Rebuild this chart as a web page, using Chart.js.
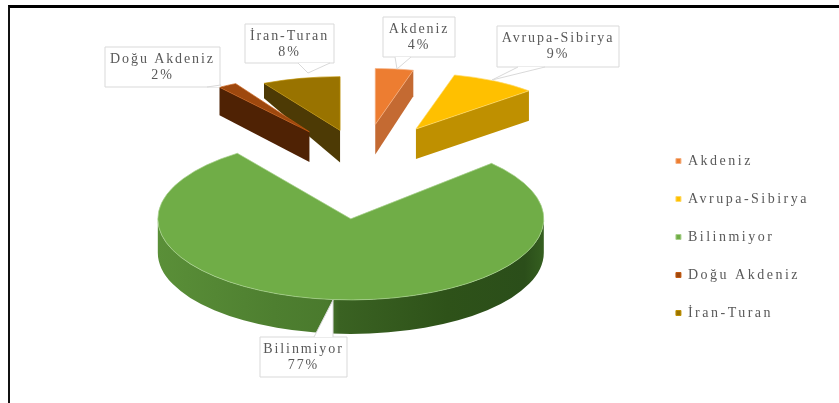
<!DOCTYPE html>
<html lang="tr">
<head>
<meta charset="utf-8">
<title>Fitocoğrafik bölgeler</title>
<style>
  html, body { margin: 0; padding: 0; background: #fff; }
  #kutu { position: absolute; left: 8px; top: 5px; width: 831px; height: 398px;
          border-top: 3px solid #000; border-left: 2px solid #111; box-sizing: border-box; }
  canvas { position: absolute; left: 0; top: 0; }
</style>
<script src="https://cdn.jsdelivr.net/npm/chart.js@4"></script>
</head>
<body>
<canvas id="grafikPasta" width="839" height="403"></canvas>
<div id="kutu"></div>
<script>
const bolgeler = ['Akdeniz', 'Avrupa-Sibirya', 'Bilinmiyor', 'Doğu Akdeniz', 'İran-Turan'];
const yuzdeler = [4, 9, 77, 2, 8];

// dilim renkleri: ust yuz, kenar cizgisi, yan duvar
const ustRenkler = ['#ED7D31', '#FFC000', '#70AD47', '#9E480E', '#997300'];
const kenarRenkler = ['#F4B183', '#FFD966', '#A9D18E', '#C55A11', '#BF9000'];
const duvarRenkler = ['#C46A32', '#BF9000', null, '#4F2204', '#4D3A05'];

// 3B gorunum: patlatma mesafesi, yaricap, egim, merkezdeki ve kenardaki yukseklik
const patlatma = [102, 105, 124, 99, 90];
const yaricaplar = [153, 155, 193, 153, 158];
const egimler = [0.366, 0.36, 0.42, 0.36, 0.34];
const merkezDerinlik = [30, 30, 34, 30, 32];
const kenarDerinlik = [26, 30, 34, 28, 15];
const PATLATMA_EGIM = 0.42;
const PASTA_KAYMA_Y = -5; // lejant alta hizali, pasta biraz yukarida duruyor

// etiket kutulari: x, y, genislik, yukseklik, kuyruk baslangic, bitis, uc
const etiketler = [
    { x: 383, y: 17, w: 72, h: 40, a: [395, 57], b: [411, 57], uc: [397, 69] },
    { x: 497, y: 26, w: 122, h: 41, a: [518, 67], b: [545, 67], uc: [492, 80] },
    { x: 260, y: 337, w: 87, h: 40, a: [314, 337], b: [333, 337], uc: [333, 300] },
    { x: 105, y: 47, w: 115, h: 40, a: [207, 87], b: [220, 87], uc: [221, 85] },
    { x: 245, y: 24, w: 89, h: 39, a: [298, 63], b: [330, 63], uc: [308, 73] }
];

function yanDuvarlar(ctx, arc, i) {
    const r = arc.outerRadius;
    const k = egimler[i];
    const dm = merkezDerinlik[i];
    const dk = kenarDerinlik[i];

    // one bakan duz kenarlar (dilimin merkezinden disa)
    const duzKenar = function (aci) {
        const px = arc.x + r * Math.cos(aci);
        const py = arc.y + r * k * Math.sin(aci);
        ctx.beginPath();
        ctx.moveTo(arc.x, arc.y);
        ctx.lineTo(px, py);
        ctx.lineTo(px, py + dk);
        ctx.lineTo(arc.x, arc.y + dm);
        ctx.closePath();
        ctx.fillStyle = duvarRenkler[i];
        ctx.fill();
    };
    if (Math.cos(arc.startAngle) < 0) duzKenar(arc.startAngle);
    if (Math.cos(arc.endAngle) > 0) duzKenar(arc.endAngle);

    // one bakan yay duvari
    const bas = Math.max(arc.startAngle, 0);
    const son = Math.min(arc.endAngle, Math.PI);
    if (son > bas) {
        ctx.beginPath();
        ctx.ellipse(arc.x, arc.y, r, r * k, 0, bas, son);
        ctx.ellipse(arc.x, arc.y + dk, r, r * k, 0, son, bas, true);
        ctx.closePath();
        const g = ctx.createLinearGradient(arc.x - r, 0, arc.x + r, 0);
        g.addColorStop(0, '#5A8F38');
        g.addColorStop(0.3, '#4E7F30');
        g.addColorStop(0.44, '#4A7A2D');
        g.addColorStop(0.47, '#3A6222');
        g.addColorStop(0.75, '#2E5219');
        g.addColorStop(0.95, '#2B4E1A');
        g.addColorStop(1, '#355F20');
        ctx.fillStyle = g;
        ctx.fill();
    }
}

const pasta3B = {
    id: 'pasta3B',
    beforeUpdate(chart) {
        chart.ctx.letterSpacing = '2.5px';
    },
    // dilimleri patlat, her dilime kendi yaricapini ver
    afterDatasetsUpdate(chart) {
        chart.getDatasetMeta(0).data.forEach(function (arc, i) {
            const orta = (arc.startAngle + arc.endAngle) / 2;
            arc.x += patlatma[i] * Math.cos(orta);
            arc.y += patlatma[i] * Math.sin(orta) * PATLATMA_EGIM + PASTA_KAYMA_Y;
            arc.outerRadius = yaricaplar[i];
        });
    },
    beforeDatasetDraw(chart) {
        const ctx = chart.ctx;
        const dilimler = chart.getDatasetMeta(0).data.map(function (arc, i) {
            return { arc: arc, i: i };
        });
        // arkadaki dilimler once cizilir
        dilimler.sort(function (a, b) { return a.arc.y - b.arc.y; });
        dilimler.forEach(function (d) {
            yanDuvarlar(ctx, d.arc, d.i);
            ctx.save();
            ctx.translate(d.arc.x, d.arc.y);
            ctx.scale(1, egimler[d.i]);
            ctx.translate(-d.arc.x, -d.arc.y);
            d.arc.draw(ctx);
            ctx.restore();
        });
        return false;
    },
    afterDatasetsDraw(chart) {
        const ctx = chart.ctx;
        ctx.save();
        ctx.font = '14px "Liberation Serif"';
        ctx.letterSpacing = '1.9px';
        ctx.textAlign = 'center';
        ctx.textBaseline = 'middle';
        etiketler.forEach(function (e, i) {
            ctx.beginPath();
            ctx.rect(e.x, e.y, e.w, e.h);
            ctx.fillStyle = '#fff';
            ctx.strokeStyle = '#D9D9D9';
            ctx.lineWidth = 1;
            ctx.fill();
            ctx.stroke();
            ctx.beginPath();
            ctx.moveTo(e.a[0], e.a[1]);
            ctx.lineTo(e.uc[0], e.uc[1]);
            ctx.lineTo(e.b[0], e.b[1]);
            ctx.closePath();
            ctx.fill();
            ctx.beginPath();
            ctx.moveTo(e.a[0], e.a[1]);
            ctx.lineTo(e.uc[0], e.uc[1]);
            ctx.lineTo(e.b[0], e.b[1]);
            ctx.stroke();
            ctx.fillStyle = '#595959';
            ctx.fillText(bolgeler[i], e.x + e.w / 2, e.y + 12);
            ctx.fillText(yuzdeler[i] + '%', e.x + e.w / 2, e.y + 28);
        });
        ctx.restore();
    }
};

new Chart(document.getElementById('grafikPasta').getContext('2d'), {
    type: 'pie',
    data: {
        labels: bolgeler,
        datasets: [{
            data: yuzdeler,
            backgroundColor: ustRenkler,
            borderColor: kenarRenkler,
            borderWidth: 1
        }]
    },
    options: {
        responsive: false,
        animation: false,
        layout: { padding: { left: 73, top: 0, bottom: 59, right: 20 } },
        plugins: {
            tooltip: { enabled: false },
            legend: {
                position: 'right',
                align: 'end',
                labels: {
                    usePointStyle: true,
                    pointStyle: 'rect',
                    boxWidth: 5,
                    boxHeight: 5,
                    padding: 24,
                    color: '#595959',
                    font: { family: '"Liberation Serif"', size: 14 }
                }
            }
        }
    },
    plugins: [pasta3B]
});
</script>
</body>
</html>
